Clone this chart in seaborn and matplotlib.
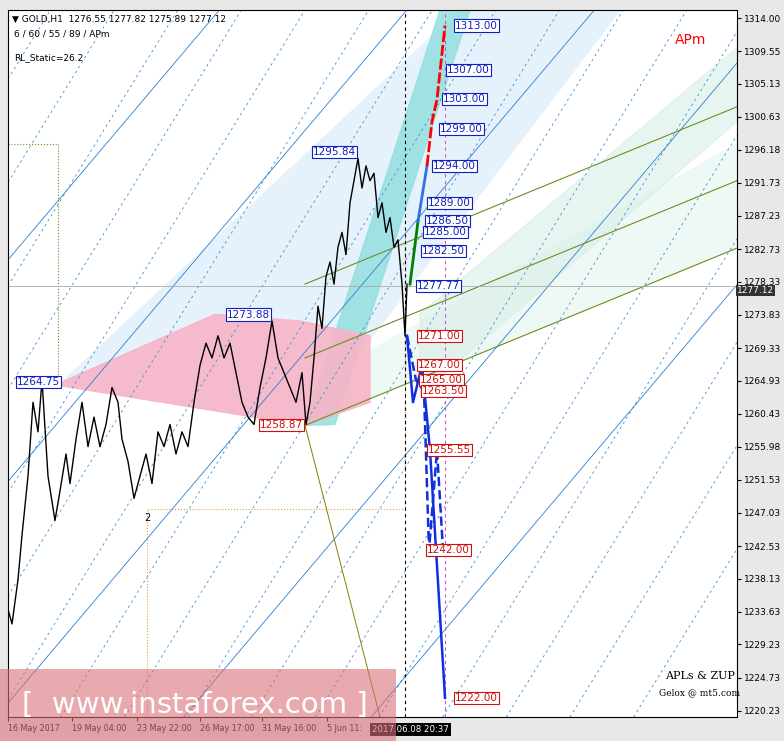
import numpy as np
import pandas as pd
import matplotlib
matplotlib.use("Agg")
import matplotlib.pyplot as plt
import seaborn as sns

# DATA (x in bar units, y in price)
price_x = [8, 12, 18, 22, 28, 33, 38, 42, 48, 55, 60, 66, 70, 76, 82, 88, 94, 100, 106, 112, 118, 122,
           128, 134, 140, 146, 152, 158, 164, 170, 176, 182, 188, 194, 200, 206, 212, 218, 224, 230,
           236, 242, 248, 254, 260, 266, 272, 278, 284, 290, 296, 302, 306, 310, 314, 318, 322, 326,
           330, 334, 338, 342, 346, 350, 354, 358, 362, 366, 370, 374, 378, 382, 386, 390, 394, 398,
           402, 405, 407]
price_y = [1234, 1232, 1238, 1244, 1252, 1262, 1258, 1265, 1252, 1246, 1250, 1255, 1251, 1257, 1262,
           1256, 1260, 1256, 1259, 1264, 1262, 1257, 1254, 1249, 1252, 1255, 1251, 1258, 1256, 1259,
           1255, 1258, 1256, 1262, 1267, 1270, 1268, 1271, 1268, 1270, 1266, 1262, 1260, 1259, 1264,
           1268, 1273, 1268, 1266, 1264, 1262, 1266, 1259, 1262, 1268, 1275, 1272, 1279, 1281, 1278,
           1283, 1285, 1282, 1289, 1292, 1295, 1291, 1294, 1292, 1293, 1287, 1289, 1285, 1287, 1283,
           1284, 1278, 1271, 1278]

blue_lbl = ["1313.00", "1307.00", "1303.00", "1299.00", "1294.00", "1289.00", "1286.50", "1285.00", "1282.50", "1277.77"]
blue_lbl_x = [455, 447, 443, 440, 433, 428, 426, 424, 422, 417]
red_lbl = ["1271.00", "1267.00", "1265.00", "1263.50", "1255.55", "1242.00", "1222.00"]
red_lbl_x = [418, 418, 420, 422, 428, 427, 455]

up_green_x = [410, 418]; up_green_y = [1278, 1286.5]
up_blue_x = [418, 427]; up_blue_y = [1286.5, 1294]
up_red_x = [427, 432, 437, 445]; up_red_y = [1294, 1300, 1303, 1313]
dn_solid_x = [407, 413, 422, 430, 445]; dn_solid_y = [1271, 1262, 1267, 1255.5, 1222]
dn_dash_x = [407, 416, 424, 429, 437, 443]; dn_dash_y = [1271, 1265, 1263.5, 1242, 1255.5, 1242]

pivot_lbl = ["1295.84", "1273.88", "1264.75", "1258.87"]
pivot_x = [358, 272, 62, 305]
pivot_y = [1295.84, 1273.88, 1264.75, 1258.87]

yticks = [1314.00, 1309.55, 1305.13, 1300.63, 1296.18, 1291.73, 1287.23, 1282.73, 1278.33, 1273.83,
          1269.33, 1264.93, 1260.43, 1255.98, 1251.53, 1247.03, 1242.53, 1238.13, 1233.63, 1229.23, 1224.73, 1220.23]
xtick_pos = [8, 72, 137, 200, 262, 327]
xtick_lbl = ["16 May 2017", "19 May 04:00", "23 May 22:00", "26 May 17:00", "31 May 16:00", "5 Jun 11:"]

fig = plt.figure(figsize=(7.84, 7.41), dpi=100)
fig.patch.set_facecolor("#e8e8e8")
ax = fig.add_axes([8 / 784, 1 - 717 / 741, 729 / 784, 707 / 741])
ax.set_facecolor("white")
ax.set_xlim(8, 737)
ax.set_ylim(1219.4, 1315.1)

# channels / zones
ax.fill([62, 460, 620, 305], [1264.75, 1315.1, 1315.1, 1258.87], color="#e6f2fb", zorder=0)
ax.fill([305, 335, 470, 440], [1258.87, 1259, 1315.1, 1315.1], color="#8fdede", alpha=0.8, zorder=1)
ax.fill([62, 215, 300, 370, 370, 305, 62], [1264.75, 1273.9, 1273, 1271, 1262, 1258.87, 1264.2],
        color="#f7b4c6", alpha=0.9, zorder=1)
ax.fill([305, 737, 737, 305], [1258.87, 1283, 1297, 1264], color="#eef8f4", zorder=0)
ax.fill([420, 737, 737, 420], [1263, 1300, 1310, 1274], color="#d8efe6", alpha=0.6, zorder=0)
for b in np.arange(-120, 200, 14):
    ax.axline((0, 1200 + b), slope=0.22, color="#3a8fd9", lw=0.6, ls=(0, (3, 4)), zorder=1)
for b in [-40, -10, 20, 50, 80]:
    ax.axline((0, 1200 + b), slope=0.16, color="#2a7fd0", lw=0.6, zorder=1)
for b in [1258.87, 1268, 1278]:
    ax.plot([305, 737], [b, b + 24], color="#6b8e23", lw=0.8, zorder=2)
ax.plot([305, 380], [1258.87, 1219.4], color="#808000", lw=0.7)
ax.plot([147, 147, 405, 405], [1219.4, 1247.5, 1247.5, 1285], color="#e0a040", lw=0.8, ls=":")
ax.plot([8, 58, 58], [1297, 1297, 1264.75], color="#6b8e23", lw=0.8, ls=":")
ax.axhline(1277.8, color="#aaaaaa", lw=0.6)
ax.axvline(405, color="black", lw=0.8, ls=(0, (3, 3)))
ax.axvline(445, color="#c060c0", lw=0.8, ls=(0, (3, 3)))

df = pd.DataFrame({"x": price_x, "y": price_y})
sns.lineplot(data=df, x="x", y="y", color="black", lw=1.0, ax=ax, zorder=4)

ax.plot(up_green_x, up_green_y, color="green", lw=2, zorder=5)
ax.plot(up_blue_x, up_blue_y, color="#3070e0", lw=2, zorder=5)
ax.plot(up_red_x, up_red_y, color="red", lw=2, ls=(0, (4, 1)), zorder=5)
ax.plot(dn_solid_x, dn_solid_y, color="#1030e0", lw=1.8, zorder=5)
ax.plot(dn_dash_x, dn_dash_y, color="#1030e0", lw=1.8, ls="--", zorder=5)

for t, x in zip(blue_lbl, blue_lbl_x):
    ax.text(x, float(t), t, color="#1020c0", fontsize=7.5, va="center", zorder=6,
            bbox=dict(boxstyle="square,pad=0.1", fc="white", ec="#1020c0", lw=0.8))
for t, x in zip(red_lbl, red_lbl_x):
    ax.text(x, float(t), t, color="#d01010", fontsize=7.5, va="center", zorder=6,
            bbox=dict(boxstyle="square,pad=0.1", fc="white", ec="#d01010", lw=0.8))
for t, x, y in zip(pivot_lbl, pivot_x, pivot_y):
    c = "#d01010" if t == "1258.87" else "#1020c0"
    ax.text(x - 2, y, t, color=c, fontsize=7.5, va="center", ha="right", zorder=6,
            bbox=dict(boxstyle="square,pad=0.1", fc="white", ec=c, lw=0.8))
ax.text(147, 1247, "2", fontsize=7, ha="center", va="top")

ax.text(12, 1313.8, "▼ GOLD,H1  1276.55 1277.82 1275.89 1277.12", fontsize=6.5, va="center")
ax.text(14, 1311.8, "6 / 60 / 55 / 89 / APm", fontsize=6.5, va="center")
ax.text(14, 1308.6, "RL_Static=26.2", fontsize=6.5, va="center")
ax.text(675, 1310.5, "APm", color="red", fontsize=10)
ax.text(700, 1224.5, "APLs & ZUP", fontsize=8, family="DejaVu Serif", ha="center")
ax.text(700, 1222.3, "Gelox @ mt5.com", fontsize=6.5, family="DejaVu Serif", ha="center")

ax.yaxis.tick_right()
ax.set_yticks(yticks)
ax.set_yticklabels([f"{v:.2f}" for v in yticks], fontsize=6.5)
ax.set_xticks(xtick_pos)
ax.set_xticklabels(xtick_lbl, fontsize=5.8, ha="left", family="Liberation Sans Narrow")
ax.tick_params(length=3, pad=2)
ax.set_xlabel(""); ax.set_ylabel("")
for s in ax.spines.values():
    s.set_color("black"); s.set_linewidth(0.8)
ax.text(737, 1277.12, "1277.12", transform=ax.transData, fontsize=6.5, color="white", va="center",
        bbox=dict(boxstyle="square,pad=0.15", fc="#333333", ec="none"), zorder=7, clip_on=False)
ax.text(372, 1218.3, "2017.06.08 20:37", fontsize=6.2, color="white", va="top", clip_on=False,
        family="Liberation Sans Narrow", zorder=12,
        bbox=dict(boxstyle="square,pad=0.2", fc="black", ec="none"))

# watermark
fig.patches.append(plt.Rectangle((0, 0), 396 / 784, 72 / 741, transform=fig.transFigure,
                                 fc="#d9707a", alpha=0.6, ec="none", zorder=10))
fig.text(22 / 784, 36 / 741, "[  www.instaforex.com ]", fontsize=21, color="white", zorder=11, va="center")

fig.savefig("out.png", dpi=100)
